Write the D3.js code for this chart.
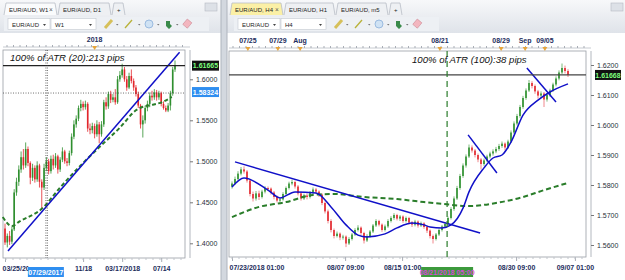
<!DOCTYPE html>
<html>
<head>
<meta charset="UTF-8">
<script src="https://d3js.org/d3.v7.min.js"></script>
<style>
  body { margin: 0; background: #e9edf2; }
  svg { display: block; font-family: "Liberation Sans", Arial, sans-serif; }
</style>
</head>
<body>
<div id="chart"></div>
<script>
    // ---- weekly EUR/AUD (left panel) ----
    const wFirstOpen = 1.418;
    const wClose = [1.401,1.409,1.402,1.417,1.462,1.475,1.490,1.505,1.495,1.515,
        1.498,1.480,1.492,1.478,1.495,1.475,1.468,1.492,1.500,1.488,
        1.503,1.495,1.506,1.490,1.502,1.512,1.500,1.498,1.510,1.530,
        1.545,1.552,1.565,1.570,1.566,1.570,1.540,1.538,1.543,1.533,
        1.545,1.533,1.545,1.572,1.567,1.582,1.575,1.578,1.572,1.600,
        1.605,1.612,1.600,1.590,1.604,1.598,1.590,1.582,1.568,1.545,
        1.550,1.565,1.570,1.580,1.578,1.584,1.578,1.583,1.570,1.565,
        1.562,1.568,1.583,1.612,1.6167];
    const wHigh = [1.424,1.412,1.415,1.420,1.466,1.480,1.495,1.512,1.515,1.523,
        1.518,1.500,1.497,1.495,1.500,1.497,1.478,1.497,1.505,1.503,
        1.507,1.508,1.510,1.508,1.505,1.517,1.514,1.504,1.513,1.534,
        1.550,1.556,1.568,1.575,1.573,1.574,1.572,1.546,1.547,1.546,
        1.550,1.548,1.549,1.575,1.578,1.585,1.586,1.582,1.588,1.604,
        1.610,1.619,1.615,1.604,1.608,1.612,1.601,1.593,1.585,1.570,
        1.556,1.568,1.574,1.584,1.586,1.588,1.587,1.586,1.585,1.573,
        1.568,1.571,1.586,1.615,1.623];
    const wLow = [1.398,1.395,1.398,1.399,1.415,1.458,1.470,1.486,1.490,1.492,
        1.494,1.472,1.476,1.474,1.475,1.468,1.443,1.465,1.488,1.484,
        1.485,1.490,1.492,1.485,1.487,1.499,1.497,1.494,1.495,1.507,
        1.527,1.541,1.549,1.561,1.562,1.563,1.536,1.533,1.534,1.528,
        1.530,1.522,1.530,1.542,1.563,1.564,1.571,1.572,1.569,1.570,
        1.597,1.602,1.597,1.586,1.588,1.595,1.586,1.579,1.565,1.540,
        1.529,1.546,1.561,1.566,1.574,1.575,1.574,1.575,1.567,1.563,
        1.560,1.560,1.562,1.580,1.609];
    const wBottomIdx = [0, 34, 51, 68];
    const wBottomLab = ["03/25/2017", "11/18", "03/17/2018", "07/14"];
    const wTopIdx = [39];
    const wTopLab = ["2018"];
    const wPriceTicks = [1.40, 1.45, 1.50, 1.55, 1.60];
    const wMA = [[-1,1.432],[3,1.421],[6.5,1.427],[16,1.442],[24,1.468],[34,1.498],[41,1.517],
        [50,1.541],[57.4,1.563],[60,1.5665],[64.3,1.569],[68.7,1.5725],[72.6,1.5785]];
    const wTrend = [[1.3,1.3906],[76,1.6331]];
    const wLast = 1.61665, wCrossPrice = 1.58324, wCrossIdx = 17.8, wCrossLab = "07/29/2017";

    // ---- H4 EUR/AUD (right panel) ----
    const hFirstOpen = 1.5795;
    const hClose = [1.5805,1.5820,1.5838,1.5852,1.5845,1.5815,1.5770,1.5755,1.5772,1.5760,
        1.5778,1.5790,1.5788,1.5775,1.5760,1.5748,1.5752,1.5770,1.5790,1.5805,
        1.5810,1.5795,1.5772,1.5755,1.5765,1.5760,1.5775,1.5785,1.5778,1.5768,
        1.5740,1.5712,1.5680,1.5650,1.5630,1.5638,1.5625,1.5628,1.5605,1.5620,
        1.5635,1.5650,1.5658,1.5640,1.5615,1.5630,1.5645,1.5665,1.5680,1.5668,
        1.5650,1.5662,1.5680,1.5690,1.5700,1.5688,1.5695,1.5680,1.5690,1.5675,
        1.5668,1.5678,1.5665,1.5672,1.5660,1.5648,1.5630,1.5620,1.5635,1.5650,
        1.5662,1.5670,1.5690,1.5720,1.5755,1.5790,1.5830,1.5865,1.5895,1.5925,
        1.5915,1.5900,1.5885,1.5870,1.5882,1.5895,1.5905,1.5912,1.5920,1.5930,
        1.5938,1.5925,1.5945,1.5975,1.6005,1.6030,1.6060,1.6090,1.6115,1.6140,
        1.6130,1.6112,1.6098,1.6105,1.6085,1.6100,1.6115,1.6135,1.6155,1.6175,
        1.6190,1.6180,1.61668];
    const hHigh = [1.5812,1.5828,1.5846,1.5860,1.5862,1.5850,1.5820,1.5778,1.5780,1.5781,
        1.5784,1.5796,1.5795,1.5792,1.5780,1.5765,1.5758,1.5776,1.5795,1.5811,
        1.5818,1.5815,1.5800,1.5778,1.5771,1.5772,1.5780,1.5792,1.5790,1.5782,
        1.5772,1.5745,1.5718,1.5686,1.5655,1.5645,1.5642,1.5634,1.5632,1.5626,
        1.5640,1.5656,1.5666,1.5662,1.5644,1.5636,1.5650,1.5670,1.5686,1.5684,
        1.5672,1.5668,1.5686,1.5696,1.5706,1.5704,1.5700,1.5699,1.5695,1.5694,
        1.5680,1.5684,1.5682,1.5678,1.5676,1.5664,1.5652,1.5635,1.5640,1.5655,
        1.5667,1.5676,1.5695,1.5726,1.5762,1.5797,1.5837,1.5872,1.5902,1.5935,
        1.5932,1.5920,1.5905,1.5890,1.5888,1.5901,1.5911,1.5919,1.5927,1.5937,
        1.5945,1.5942,1.5951,1.5982,1.6012,1.6037,1.6067,1.6097,1.6122,1.6150,
        1.6146,1.6135,1.6117,1.6112,1.6110,1.6106,1.6121,1.6141,1.6162,1.6182,
        1.6205,1.6198,1.6186];
    const hLow = [1.5788,1.5800,1.5815,1.5832,1.5838,1.5808,1.5762,1.5745,1.5748,1.5750,
        1.5755,1.5772,1.5780,1.5768,1.5752,1.5742,1.5741,1.5748,1.5765,1.5785,
        1.5799,1.5788,1.5765,1.5748,1.5750,1.5752,1.5755,1.5770,1.5770,1.5760,
        1.5733,1.5705,1.5672,1.5642,1.5622,1.5625,1.5616,1.5618,1.5593,1.5600,
        1.5615,1.5630,1.5645,1.5634,1.5605,1.5610,1.5625,1.5640,1.5660,1.5662,
        1.5644,1.5645,1.5657,1.5675,1.5684,1.5682,1.5680,1.5674,1.5675,1.5668,
        1.5660,1.5662,1.5658,1.5660,1.5654,1.5640,1.5622,1.5605,1.5615,1.5630,
        1.5645,1.5656,1.5665,1.5685,1.5714,1.5750,1.5784,1.5824,1.5858,1.5890,
        1.5908,1.5892,1.5876,1.5852,1.5864,1.5876,1.5889,1.5898,1.5906,1.5914,
        1.5924,1.5915,1.5920,1.5940,1.5970,1.5999,1.6024,1.6054,1.6084,1.6110,
        1.6122,1.6104,1.6088,1.6090,1.6060,1.6078,1.6094,1.6110,1.6129,1.6149,
        1.6170,1.6172,1.6160];
    const hBottomIdx = [0, 37.7, 56.7, 94.7, 114.3];
    const hBottomLab = ["07/23/2018 01:00", "08/07 09:00", "08/15 01:00", "08/30 09:00", "09/07 01:00"];
    const hTopIdx = [5.3, 15.3, 22.7, 69.3, 89.7, 97.7, 104.3];
    const hTopLab = ["07/25", "07/29", "Aug", "08/21", "08/29", "Sep", "09/05"];
    const hPriceTicks = [1.56, 1.57, 1.58, 1.59, 1.60, 1.61, 1.62];
    const hFastMA = [[0,1.5793],[4,1.5823],[12,1.5783],[16,1.5757],[21,1.5777],[28,1.5773],[33,1.5727],
        [38,1.5667],[42,1.5633],[45,1.5627],[51,1.5637],[55,1.5657],[60,1.5673],[64,1.5667],[66,1.5660],
        [70,1.5657],[73,1.5667],[77,1.5723],[79,1.5777],[84,1.5857],[87,1.5890],[90,1.5900],[93,1.5943],
        [97,1.6033],[102,1.6083],[106,1.6110],[112,1.6137]];
    const hSlowMA = [[0,1.5693],[9,1.5727],[18,1.5743],[27,1.5767],[34,1.5770],[44,1.5760],[55,1.5753],
        [64,1.5743],[70,1.5737],[79,1.5730],[88,1.5740],[97,1.5760],[104,1.5783],[112,1.5807]];
    const hTrends = [
        [[1,1.5877],[82.7,1.5640]],
        [[78.7,1.5967],[88.3,1.5840]],
        [[98.3,1.6190],[108,1.6077]]
    ];
    const hLast = 1.61668, hCrossIdx = 71.7, hCrossLab = "08/21/2018 05:00";

    const W = 625, H = 280;
    const UP = "#2f8f2f", DOWN = "#e2262c", BLUE = "#1010c8", MAGREEN = "#2a7d2a";

    const svg = d3.select("#chart").append("svg").attr("width", W).attr("height", H);
    const defs = svg.append("defs");

    // app chrome
    const grad = defs.append("linearGradient").attr("id", "bar").attr("x1", 0).attr("y1", 0).attr("x2", 0).attr("y2", 1);
    grad.append("stop").attr("offset", "0%").attr("stop-color", "#f7f8fa");
    grad.append("stop").attr("offset", "100%").attr("stop-color", "#dfe3e9");
    svg.append("rect").attr("width", W).attr("height", H).attr("fill", "#e9edf2");
    svg.append("rect").attr("x", 0).attr("y", 0).attr("width", W).attr("height", 33).attr("fill", "url(#bar)");

    function tabs(x0, list, activeFill) {
        let x = x0;
        list.forEach((t, k) => {
            const w = t.w;
            svg.append("path")
                .attr("d", `M${x},15 L${x + 2},3 L${x + w - 2},3 L${x + w},15`)
                .attr("fill", k === 0 ? activeFill : "#eef0f3")
                .attr("stroke", "#b9bec6").attr("stroke-width", 0.8);
            svg.append("text").attr("x", x + 5).attr("y", 12).attr("font-size", 6)
                .attr("fill", "#222").text(t.label);
            if (t.close) svg.append("text").attr("x", x + w - 8).attr("y", 12).attr("font-size", 6.5)
                .attr("fill", "#555").text("\u00d7");
            x += w + 1;
        });
    }
    tabs(4, [{label: "EUR/AUD, W1", w: 53, close: true}, {label: "EUR/AUD, D1", w: 53}, {label: " +", w: 13}], "#fafbfc");
    tabs(230, [{label: "EUR/AUD, H4", w: 53, close: true}, {label: "EUR/AUD, H1", w: 51}, {label: "EUR/AUD, m5", w: 52}, {label: " +", w: 13}], "#fbf0a6");

    // window buttons
    [[205, 3], [611, 3]].forEach(([x, y]) => {
        svg.append("rect").attr("x", x).attr("y", y).attr("width", 12).attr("height", 8)
            .attr("fill", "#dde1e7").attr("stroke", "#b5bac2").attr("stroke-width", 0.6);
    });

    // toolbar
    function toolbar(x0, sym, tf) {
        const g = svg.append("g").attr("transform", `translate(${x0},0)`);
        g.append("rect").attr("x", 0).attr("y", 17).attr("width", 205).attr("height", 14).attr("fill", "#edf0f4");
        [[4, 42, sym], [47, 45, tf]].forEach(([x, w, s]) => {
            g.append("rect").attr("x", x).attr("y", 18.5).attr("width", w).attr("height", 11)
                .attr("fill", "#fff").attr("stroke", "#c3c8cf").attr("stroke-width", 0.6);
            g.append("text").attr("x", x + 4).attr("y", 26.5).attr("font-size", 6).attr("fill", "#222").text(s);
            g.append("path").attr("d", `M${x + w - 7},24 l3,0 l-1.5,2 z`).attr("fill", "#444");
        });
        // tool icons
        g.append("line").attr("x1", 101).attr("y1", 28).attr("x2", 108).attr("y2", 20).attr("stroke", "#d6c05a").attr("stroke-width", 3);
        g.append("line").attr("x1", 121).attr("y1", 28).attr("x2", 128).attr("y2", 20).attr("stroke", "#b9b23a").attr("stroke-width", 1.4);
        g.append("circle").attr("cx", 145).attr("cy", 24).attr("r", 4).attr("fill", "#cfe2f4").attr("stroke", "#9bbbe0");
        g.append("path").attr("d", "M162,21 l4,0 l0,3 l2,2 l-3,3 l-3,-3 z").attr("fill", "#3b8b4b");
        g.append("rect").attr("x", 180).attr("y", 20).attr("width", 6).attr("height", 7).attr("transform", "rotate(40,183,24)").attr("fill", "#f3b6bf").attr("stroke", "#c87f8a").attr("stroke-width", 0.5);
        [112, 134, 153, 172].forEach(x => g.append("path").attr("d", `M${x},24 l2.5,0 l-1.25,1.5 z`).attr("fill", "#777"));
    }
    toolbar(4, "EUR/AUD", "W1");
    toolbar(234, "EUR/AUD", "H4");

    // panels
    svg.append("rect").attr("x", 0).attr("y", 33).attr("width", 221).attr("height", 247).attr("fill", "#fff");
    svg.append("rect").attr("x", 227).attr("y", 33).attr("width", 398).attr("height", 247).attr("fill", "#fff");
    svg.append("rect").attr("x", 221).attr("y", 0).attr("width", 6).attr("height", H).attr("fill", "#d3d8df");
    svg.append("line").attr("x1", 221).attr("x2", 221).attr("y1", 0).attr("y2", H).attr("stroke", "#aeb4bd");
    svg.append("line").attr("x1", 227).attr("x2", 227).attr("y1", 0).attr("y2", H).attr("stroke", "#aeb4bd");

    function panel(opt) {
        const {x0, x1, y0, y1, xScale, yScale, open0, close, high, low, bw} = opt;
        const g = svg.append("g");
        g.append("rect").attr("x", x0).attr("y", y0).attr("width", x1 - x0).attr("height", y1 - y0)
            .attr("fill", "#fff").attr("stroke", "#9a9ea5").attr("stroke-width", 0.8);

        // top time axis
        const top = g.append("g").attr("transform", `translate(0,${y0 - 3})`);
        top.append("line").attr("x1", x0).attr("x2", x1 + 5).attr("y1", 0).attr("y2", 0).attr("stroke", "#c7cbd1");
        top.selectAll("line.minor").data(d3.range(x0 + 4, x1, 6.5)).join("line")
            .attr("x1", d => d).attr("x2", d => d).attr("y1", -2).attr("y2", 0).attr("stroke", "#a8adb5");
        top.selectAll("path.tri").data(opt.topIdx).join("path")
            .attr("d", d => `M${xScale(d) - 2.5},-1 l5,0 l-2.5,4 z`).attr("fill", "#e7a53b");
        top.selectAll("text").data(opt.topIdx).join("text")
            .attr("x", d => xScale(d)).attr("y", -5).attr("text-anchor", "middle")
            .attr("font-size", 7).attr("font-weight", "bold").attr("fill", "#1d2d5c")
            .text((d, k) => opt.topLab[k]);

        // bottom time axis
        const bottom = g.append("g").attr("transform", `translate(0,${y1})`);
        bottom.call(d3.axisBottom(xScale).tickValues(opt.bottomIdx).tickSize(4).tickFormat((d, k) => opt.bottomLab[k]));
        bottom.select(".domain").remove();
        bottom.selectAll(".tick line").attr("stroke", "#a8adb5");
        bottom.selectAll(".tick text").attr("font-size", 7).attr("font-weight", "bold").attr("fill", "#1d2d5c")
            .attr("font-family", "Liberation Sans, Arial, sans-serif").attr("dy", "0.9em");
        bottom.selectAll(".tick").filter((d, k) => k === 0).select("text").attr("text-anchor", "start").attr("dx", -3);
        bottom.selectAll("line.minor").data(d3.range(x0 + 3, x1, 7)).join("line").attr("class", "minor")
            .attr("x1", d => d).attr("x2", d => d).attr("y1", 0).attr("y2", 2).attr("stroke", "#c1c5cb");

        // price axis
        const pa = g.append("g").attr("transform", `translate(${x1 + 5},0)`);
        pa.call(d3.axisRight(yScale).tickValues(opt.priceTicks).tickSize(3).tickFormat(d3.format(".4f")));
        pa.select(".domain").attr("stroke", "#b3b8bf").attr("d", `M0,${y0}V${y1}`);
        pa.selectAll(".tick line").attr("stroke", "#777");
        pa.selectAll(".tick text").attr("font-size", 7).attr("fill", "#2a2f3a").attr("x", 6)
            .attr("font-family", "Liberation Sans, Arial, sans-serif");

        // candles
        const bars = close.map((c, i) => ({i, o: i === 0 ? open0 : close[i - 1], h: high[i], l: low[i], c}));
        const cg = g.append("g");
        cg.selectAll("line").data(bars).join("line")
            .attr("x1", d => xScale(d.i)).attr("x2", d => xScale(d.i))
            .attr("y1", d => yScale(d.h)).attr("y2", d => yScale(d.l))
            .attr("stroke", d => d.c >= d.o ? opt.upWick : opt.downWick).attr("stroke-width", 0.8);
        cg.selectAll("rect").data(bars).join("rect")
            .attr("x", d => xScale(d.i) - bw / 2).attr("width", bw)
            .attr("y", d => yScale(Math.max(d.o, d.c)))
            .attr("height", d => Math.max(1, Math.abs(yScale(d.o) - yScale(d.c))))
            .attr("fill", d => d.c >= d.o ? UP : DOWN);
        return {g, bottom};
    }

    // left panel
    const xL = d3.scaleLinear().domain([0, 74]).range([5, 175]);
    const yL = d3.scaleLinear().domain([1.40, 1.60]).range([243.3, 79.3]);
    const pL = panel({x0: 3, x1: 185, y0: 50, y1: 258, xScale: xL, yScale: yL, open0: wFirstOpen,
        close: wClose, high: wHigh, low: wLow, bw: 1.6, topIdx: wTopIdx, topLab: wTopLab,
        bottomIdx: wBottomIdx, bottomLab: wBottomLab, priceTicks: wPriceTicks, upWick: "#2f8f2f", downWick: "#e2262c"});
    const gL = pL.g;
    // the crosshair date tag hides the end of the first date label (clip in the tick's own coordinates)
    defs.append("clipPath").attr("id", "firstLab").append("rect")
        .attr("x", -8).attr("y", 0).attr("width", xL(wCrossIdx) - 18 - xL(0) + 8).attr("height", 22);
    pL.bottom.selectAll(".tick").filter((d, k) => k === 0).select("text")
        .attr("clip-path", "url(#firstLab)");

    const lineL = d3.line().x(d => xL(d[0])).y(d => yL(d[1]));
    gL.append("path").attr("d", lineL.curve(d3.curveMonotoneX)(wMA)).attr("fill", "none")
        .attr("stroke", MAGREEN).attr("stroke-width", 2).attr("stroke-dasharray", "4,2.5");
    gL.append("path").attr("d", d3.line().x(d => xL(d[0])).y(d => yL(d[1]))(wTrend)).attr("fill", "none")
        .attr("stroke", BLUE).attr("stroke-width", 1.5);
    gL.append("line").attr("x1", 3).attr("x2", 185).attr("y1", yL(wLast)).attr("y2", yL(wLast))
        .attr("stroke", "#222").attr("stroke-width", 1.2);
    // crosshair
    [0, 1.5].forEach(o => gL.append("line").attr("x1", xL(wCrossIdx) + o).attr("x2", xL(wCrossIdx) + o)
        .attr("y1", 50).attr("y2", 258).attr("stroke", "#333").attr("stroke-width", 0.7).attr("stroke-dasharray", "1,1.5"));
    gL.append("line").attr("x1", 3).attr("x2", 185).attr("y1", yL(wCrossPrice)).attr("y2", yL(wCrossPrice))
        .attr("stroke", "#333").attr("stroke-width", 0.7).attr("stroke-dasharray", "1,1.5");
    gL.append("text").attr("x", 10).attr("y", 61).attr("font-size", 9.6).attr("font-style", "italic")
        .attr("fill", "#111").text("100% of ATR (20):213 pips");
    // price tags
    function tag(g, x, y, w, txt, bg, fg) {
        g.append("rect").attr("x", x).attr("y", y - 5).attr("width", w).attr("height", 10).attr("fill", bg);
        g.append("text").attr("x", x + w / 2).attr("y", y + 2.6).attr("text-anchor", "middle")
            .attr("font-size", 7).attr("font-weight", "bold").attr("fill", fg).text(txt);
    }
    tag(gL, 192, yL(wLast), 27, d3.format(".5f")(wLast), "#111", "#7dff7d");
    tag(gL, 192, yL(wCrossPrice) - 1, 27, d3.format(".5f")(wCrossPrice), "#2f8ef0", "#fff");
    tag(gL, xL(wCrossIdx) - 18, 272, 36, wCrossLab, "#2f8ef0", "#fff");

    // right panel
    const xR = d3.scaleLinear().domain([0, 112]).range([232, 568]);
    const yR = d3.scaleLinear().domain([1.56, 1.62]).range([245, 65]);
    const pR = panel({x0: 229, x1: 586, y0: 51, y1: 257, xScale: xR, yScale: yR, open0: hFirstOpen,
        close: hClose, high: hHigh, low: hLow, bw: 1.6, topIdx: hTopIdx, topLab: hTopLab,
        bottomIdx: hBottomIdx, bottomLab: hBottomLab, priceTicks: hPriceTicks, upWick: "#5aaa5a", downWick: "#ec6a6e"});
    const gR = pR.g;

    const lineR = d3.line().x(d => xR(d[0])).y(d => yR(d[1])).curve(d3.curveMonotoneX);
    gR.append("path").attr("d", lineR(hSlowMA)).attr("fill", "none")
        .attr("stroke", MAGREEN).attr("stroke-width", 2).attr("stroke-dasharray", "5,3");
    gR.append("path").attr("d", lineR(hFastMA)).attr("fill", "none")
        .attr("stroke", BLUE).attr("stroke-width", 1.5);
    const straight = d3.line().x(d => xR(d[0])).y(d => yR(d[1]));
    hTrends.forEach(t => gR.append("path").attr("d", straight(t)).attr("fill", "none")
        .attr("stroke", BLUE).attr("stroke-width", 1.5));
    gR.append("line").attr("x1", 229).attr("x2", 586).attr("y1", yR(hLast)).attr("y2", yR(hLast))
        .attr("stroke", "#444").attr("stroke-width", 1.2);
    gR.append("line").attr("x1", xR(hCrossIdx)).attr("x2", xR(hCrossIdx)).attr("y1", 51).attr("y2", 257)
        .attr("stroke", MAGREEN).attr("stroke-width", 1.2).attr("stroke-dasharray", "6,4");
    gR.append("text").attr("x", 412).attr("y", 63).attr("font-size", 9.6).attr("font-style", "italic")
        .attr("fill", "#111").text("100% of ATR (100):38 pips");
    tag(gR, 595, yR(hLast), 26, d3.format(".5f")(hLast), "#111", "#7dff7d");
    tag(gR, xR(hCrossIdx) - 26, 272, 52, hCrossLab, "#3c9a3c", "#d64bd6");
</script>
</body>
</html>
